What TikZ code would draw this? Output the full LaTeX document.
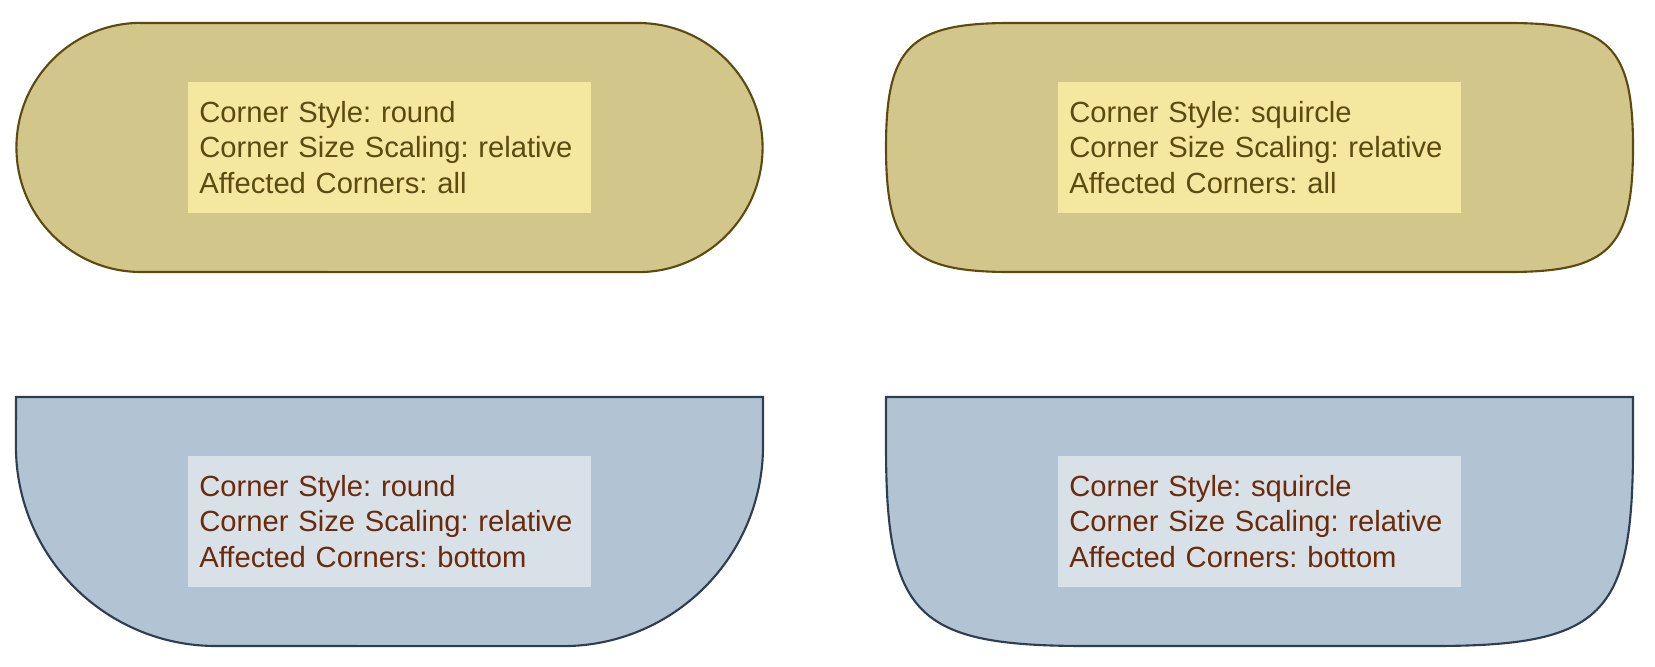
\documentclass[tikz,border=0pt]{standalone}
\usepackage{fontspec}
\setmainfont{Liberation Sans}
\usetikzlibrary{positioning}
\definecolor{sandfill}{HTML}{D2C68A}
\definecolor{sandline}{HTML}{5C4A10}
\definecolor{sandbox}{HTML}{F4E8A0}
\definecolor{bluefill}{HTML}{B2C3D4}
\definecolor{blueline}{HTML}{2E3E50}
\definecolor{bluebox}{HTML}{D8E0E8}
\definecolor{bluetext}{HTML}{6B2A0A}
\frenchspacing
\begin{document}
\begin{tikzpicture}[x=0.01cm,y=-0.01cm,
  label/.style = {minimum width=4.03cm, minimum height=1.31cm, text width=3.8cm, align=left, inner sep=0pt, font=\fontsize{8.3}{10.2}\selectfont},
  sandshape/.style = {fill=sandfill, draw=sandline, line width=0.6pt},
  blueshape/.style = {fill=bluefill, draw=blueline, line width=0.6pt}]
	\useasboundingbox (0,0) rectangle (1655,667);
	% round, all corners
	\draw[sandshape] (141,23) -- (638,23) arc[start angle=90,end angle=-90,radius=1.245cm] -- (141,272) arc[start angle=270,end angle=90,radius=1.245cm] -- cycle;
	% squircle, all corners
	\draw[sandshape] (1010,23) -- (1509,23) .. controls (1609,23) and (1633,47) .. (1633,147) .. controls (1633,248) and (1609,272) .. (1509,272) -- (1010,272) .. controls (910,272) and (886,248) .. (886,147) .. controls (886,47) and (910,23) .. cycle;
	% round, bottom corners
	\draw[blueshape] (16,397) -- (763,397) -- (763,446) arc[start angle=0,end angle=-90,radius=2cm] -- (216,646) arc[start angle=-90,end angle=-180,radius=2cm] -- cycle;
	% squircle, bottom corners
	\draw[blueshape] (886,397) -- (1633,397) -- (1633,446) .. controls (1633,616) and (1603,646) .. (1433,646) -- (1086,646) .. controls (916,646) and (886,616) .. (886,446) -- cycle;
	\node[label, fill=sandbox, text=sandline] (tl) at (389.5,147.5) {Corner Style: round\\Corner Size Scaling: relative\\Affected Corners: all};
	\node[label, fill=sandbox, text=sandline] (tr) at (1259.5,147.5) {Corner Style: squircle\\Corner Size Scaling: relative\\Affected Corners: all};
	\node[label, fill=bluebox, text=bluetext] (bl) at (389.5,521.5) {Corner Style: round\\Corner Size Scaling: relative\\Affected Corners: bottom};
	\node[label, fill=bluebox, text=bluetext] (br) at (1259.5,521.5) {Corner Style: squircle\\Corner Size Scaling: relative\\Affected Corners: bottom};
\end{tikzpicture}
\end{document}
